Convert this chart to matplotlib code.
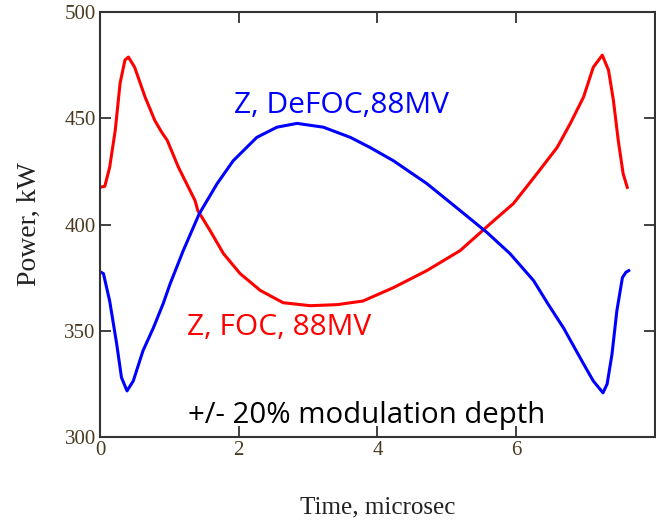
import numpy as np
import matplotlib.pyplot as plt

# Power of the two bunch configurations over one modulation period
t_foc = [0, 0.07, 0.14, 0.22, 0.29, 0.36, 0.41, 0.50, 0.65, 0.79, 0.89, 0.97, 1.13,
         1.37, 1.41, 1.59, 1.78, 2.02, 2.31, 2.64, 3.03, 3.42, 3.79, 4.23, 4.71, 4.95,
         5.19, 5.63, 5.96, 6.30, 6.59, 6.78, 6.97, 7.11, 7.24, 7.33, 7.40, 7.47, 7.54, 7.60]
p_foc = [417.5, 418, 427, 444.3, 466.5, 477.4, 478.8, 474, 460, 449, 443.4, 439.6, 427,
         411.3, 406.6, 397, 386.3, 376.9, 369, 363.2, 361.8, 362.3, 364, 370.3, 378.3, 383,
         387.7, 400.5, 409.9, 424, 436.3, 447.6, 460, 474, 479.7, 472.6, 458.5, 439.6, 424, 417.5]

t_defoc = [0, 0.05, 0.14, 0.24, 0.31, 0.39, 0.48, 0.62, 0.77, 0.91, 1.01, 1.2, 1.43,
           1.69, 1.92, 2.26, 2.55, 2.84, 3.22, 3.61, 3.89, 4.23, 4.71, 5.19, 5.58,
           5.91, 6.25, 6.45, 6.68, 6.97, 7.11, 7.25, 7.31, 7.38, 7.45, 7.53, 7.58, 7.62]
p_defoc = [377.8, 376.9, 364, 344, 328, 321.7, 326.4, 340.6, 351.4, 362.7, 372, 387.7, 405,
           419.3, 430, 441, 445.8, 447.6, 445.8, 441, 436.3, 430, 419.3, 406.6, 396.2,
           386.3, 373.6, 363, 351.4, 334.4, 326.4, 320.8, 325, 339, 359.4, 375, 377.5, 378.3]

x_ticks = [0, 2, 4, 6]
y_ticks = [300, 350, 400, 450, 500]

fig = plt.figure(figsize=(6.56, 5.23), dpi=100)
ax = fig.add_axes([0.1524, 0.1644, 0.8461, 0.8126])

ax.plot(t_foc, p_foc, color='#ff0000', lw=2.2)
ax.plot(t_defoc, p_defoc, color='#0000ff', lw=2.2)

ax.set_xlim(0, 8)
ax.set_ylim(300, 500)
ax.set_xticks(x_ticks)
ax.set_yticks(y_ticks)

tick_color = '#4a3a22'
ax.tick_params(direction='in', length=8, width=1.3, top=True, right=True,
               labelsize=15, labelcolor=tick_color, color='#333333', pad=3)
for lbl in ax.get_xticklabels() + ax.get_yticklabels():
    lbl.set_family('Liberation Serif')
for s in ax.spines.values():
    s.set_linewidth(1.5)
    s.set_color('#333333')

ax.set_xlabel('Time, microsec', family='Liberation Serif', fontsize=18,
              color='#222222', labelpad=26)
ax.set_ylabel('Power, kW', family='Liberation Serif', fontsize=20,
              color='#222222', labelpad=16)

ax.text(1.93, 452.4, 'Z, DeFOC,88MV', color='#0000ff', family='Open Sans',
        fontsize=21.5, ha='left', va='baseline')
ax.text(1.25, 348, 'Z, FOC, 88MV', color='#ff0000', family='Open Sans',
        fontsize=21.5, ha='left', va='baseline')
ax.text(1.27, 306.6, '+/- 20% modulation depth', color='#000000', family='Open Sans',
        fontsize=21.2, ha='left', va='baseline')

fig.savefig('out.png', dpi=100)
